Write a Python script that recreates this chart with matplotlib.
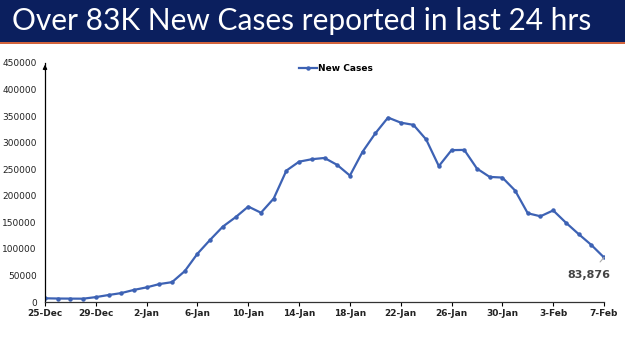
import numpy as np
import matplotlib.pyplot as plt
from matplotlib.patches import Rectangle

# Data
dates = ['25-Dec', '26-Dec', '27-Dec', '28-Dec', '29-Dec', '30-Dec', '31-Dec',
         '1-Jan', '2-Jan', '3-Jan', '4-Jan', '5-Jan', '6-Jan', '7-Jan', '8-Jan',
         '9-Jan', '10-Jan', '11-Jan', '12-Jan', '13-Jan', '14-Jan', '15-Jan',
         '16-Jan', '17-Jan', '18-Jan', '19-Jan', '20-Jan', '21-Jan', '22-Jan',
         '23-Jan', '24-Jan', '25-Jan', '26-Jan', '27-Jan', '28-Jan', '29-Jan',
         '30-Jan', '31-Jan', '1-Feb', '2-Feb', '3-Feb', '4-Feb', '5-Feb',
         '6-Feb', '7-Feb']
new_cases = [6987, 6531, 6358, 6242, 9195, 13154, 16764, 22775, 27553, 33750,
             37379, 58097, 90928, 117100, 141986, 159632, 179723, 168063,
             194720, 247417, 264202, 268833, 271202, 258089, 238018, 282970,
             317532, 347254, 337704, 333533, 306064, 255874, 285914, 286384,
             251209, 235532, 234281, 209918, 167059, 161386, 172433, 149394,
             127952, 107474, 83876]
y_ticks = [0, 50000, 100000, 150000, 200000, 250000, 300000, 350000, 400000, 450000]

x = np.arange(len(dates))
line_color = '#3d62b4'

fig = plt.figure(figsize=(6.25, 3.51), dpi=100)
fig.patch.set_facecolor('white')

# Title banner
fig.patches.append(Rectangle((0, 1 - 42 / 351), 1, 42 / 351, transform=fig.transFigure,
                             facecolor='#0b1f5e', edgecolor='none', zorder=0))
fig.patches.append(Rectangle((0, 1 - 44 / 351), 1, 2 / 351, transform=fig.transFigure,
                             facecolor='#d2643c', edgecolor='none', zorder=0))
fig.text(0.483, 1 - 21 / 351, 'Over 83K New Cases reported in last 24 hrs',
         ha='center', va='center', color='white', fontsize=21.5, family='Lato')

ax = fig.add_axes([45 / 625, 1 - 302 / 351, 559 / 625, 239 / 351])
ax.plot(x, new_cases, color=line_color, linewidth=1.6, marker='o', markersize=2.2,
        label='New Cases')

ax.set_xlim(0, len(dates) - 1)
ax.set_ylim(0, 450000)
ax.set_yticks(y_ticks)
ax.set_yticklabels([str(v) for v in y_ticks], fontsize=6.5, color='#222222')
ax.tick_params(axis='y', length=0, pad=6)
ax.set_xticks(x[::4])
ax.set_xticklabels(dates[::4], fontsize=6.5, fontweight='bold', color='#222222')
ax.tick_params(axis='x', length=3, width=0.8, direction='out', pad=2)

for s in ['top', 'right']:
    ax.spines[s].set_visible(False)
ax.spines['left'].set_linewidth(0.9)
ax.spines['bottom'].set_linewidth(0.9)
ax.spines['bottom'].set_color('#333333')

# arrow on y axis
ax.annotate('', xy=(0, 1.005), xytext=(0, 0.96), xycoords='axes fraction',
            arrowprops=dict(arrowstyle='-|>', color='black', lw=0.9,
                            mutation_scale=6))

# Last value label
ax.annotate(f'{new_cases[-1]:,}', xy=(x[-1], new_cases[-1]),
            xytext=(x[-1] - 1.2, new_cases[-1] - 33000),
            ha='center', va='center', fontsize=8, fontweight='bold', color='#444444',
            arrowprops=dict(arrowstyle='-', color='#aaaaaa', lw=0.8,
                            shrinkA=5, shrinkB=0))

ax.legend(loc='upper center', bbox_to_anchor=(0.52, 1.03), frameon=False,
          handlelength=2.0, handletextpad=0.1,
          prop={'weight': 'bold', 'size': 6.5})

fig.savefig('out.png', dpi=100)
